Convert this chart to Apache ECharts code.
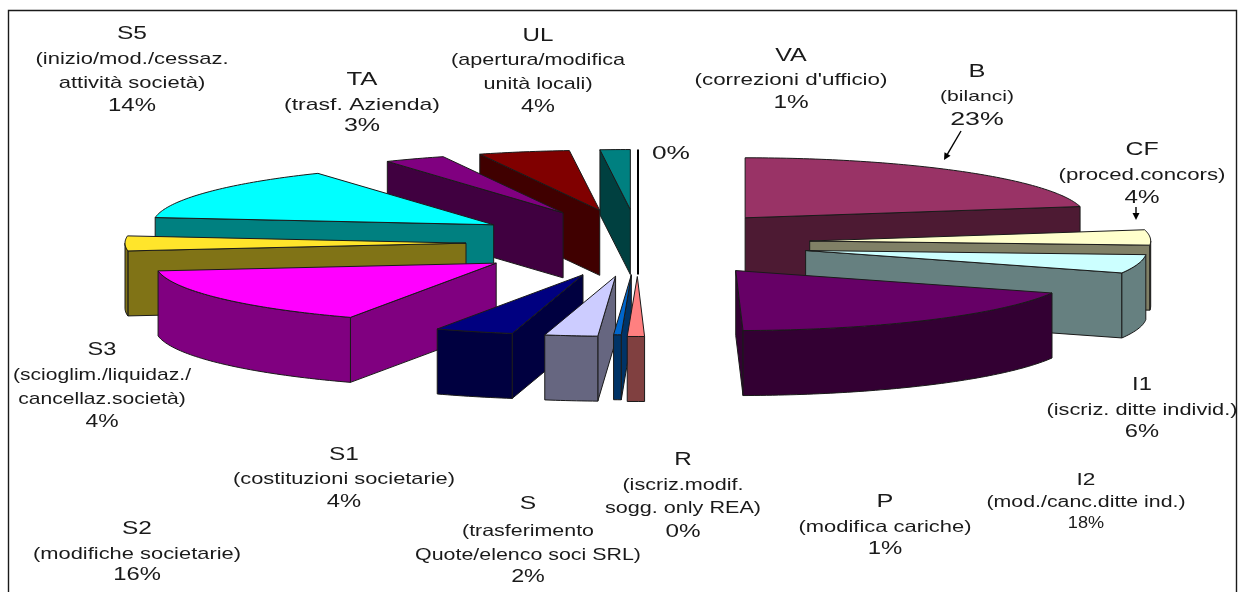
<!DOCTYPE html>
<html><head><meta charset="utf-8">
<style>html,body{margin:0;padding:0;background:#fff}#c{width:1244px;height:592px}</style>
<script src="https://cdn.jsdelivr.net/npm/echarts@6/dist/echarts.min.js"></script>
</head><body><div id="c"></div>
<script>
// Slices, clockwise from 12 o'clock
var codes  = ['B','CF','I1','I2','P','R','S','S1','S2','S3','S5','TA','UL','VA','-'];
var shares = [22,4.1,5,18.56,0.81,0.36,2.5,3.7,15.9,4,14.45,2.9,4.3,1.42,0];
var colors = ['#993366','#FFFFCC','#CCFFFF','#660066','#FF8080','#0066CC','#CCCCFF','#000080','#FF00FF','#FFE52B','#00FFFF','#800080','#800000','#008080','#000000'];
var explodeScale = [0.977,1,1,1,1,0.95,1,1,1.02,1,1,1,1,1,1];

// Label texts
var texts = {
  S5:['S5','(inizio/mod./cessaz.','attività società)','14%'],
  TA:['TA','(trasf. Azienda)','3%'],
  UL:['UL','(apertura/modifica','unità locali)','4%'],
  VA:['VA',"(correzioni d'ufficio)",'1%'],
  B:['B','(bilanci)','23%'],
  CF:['CF','(proced.concors)','4%'],
  Z:['0%'],
  I1:['I1','(iscriz. ditte individ.)','6%'],
  I2:['I2','(mod./canc.ditte ind.)','18%'],
  P:['P','(modifica cariche)','1%'],
  R:['R','(iscriz.modif.','sogg. only REA)','0%'],
  S:['S','(trasferimento','Quote/elenco soci SRL)','2%'],
  S1:['S1','(costituzioni societarie)','4%'],
  S2:['S2','(modifiche societarie)','16%'],
  S3:['S3','(scioglim./liquidaz./','cancellaz.società)','4%']
};

// Layout (separate from data)
var G = {cx:638, cy:243, rx:341, ry:60, ex:172, ey:33.5, depth:65};
var labelLayout = {
  S5:{x:132,ys:[34,59,83,106],w:193,ref:1,sizes:[19,17,17,18.5]},
  TA:{x:362,ys:[80,105,126],w:156,ref:1,sizes:[19,17,18.5]},
  UL:{x:538,ys:[36,60,84,107],w:174,ref:1,sizes:[19,17,17,18.5]},
  VA:{x:791,ys:[56,80,103],w:193,ref:1,sizes:[19,17,18.5]},
  B:{x:977,ys:[72,97,120],w:74,ref:1,sizes:[18,15,19]},
  CF:{x:1142,ys:[150,175,198],w:167,ref:1,sizes:[19,17,18.5]},
  Z:{x:671,ys:[154],w:38,ref:0,sizes:[18.5]},
  I1:{x:1142,ys:[385,410,432],w:191,ref:1,sizes:[18,16.5,18]},
  I2:{x:1086,ys:[480,503,524],w:199,ref:1,sizes:[17,16,16],scale:[1,1,0.85]},
  P:{x:885,ys:[502,527,549],w:173,ref:1,sizes:[19,16.5,18]},
  R:{x:683,ys:[460,486,509,532],w:156,ref:2,sizes:[18,16,16,18]},
  S:{x:528,ys:[504,531,555,577],w:226,ref:2,sizes:[19,16.5,16.5,18]},
  S1:{x:344,ys:[455,479,502],w:222,ref:1,sizes:[19,17,18.5]},
  S2:{x:137,ys:[529,554,575],w:208,ref:1,sizes:[19,17,18.5]},
  S3:{x:102,ys:[350,375,399,422],w:178,ref:1,sizes:[19,17,17,18.5]}
};
var arrows = [[961,131,944,160],[1136,207,1136,220]];

var FONT='"Liberation Sans",Arial,sans-serif';
var INK='#1a1a1a';
var total=shares.reduce(function(a,b){return a+b},0);
var rows=[],acc=0;
shares.forEach(function(v,i){
  var a0=acc/total*360; acc+=v; var a1=acc/total*360;
  rows.push({i:i,a0:a0,a1:a1,mid:(a0+a1)/2});
});
// zero slice sits exactly on 12 o'clock
rows[rows.length-1].a0=rows[rows.length-1].a1=rows[rows.length-1].mid=360;
// painter's order: far slices first
var ordered=rows.slice().sort(function(p,q){return Math.cos(q.mid*Math.PI/180)-Math.cos(p.mid*Math.PI/180)});
var seriesData=ordered.map(function(r){return {name:codes[r.i],value:[r.a0,r.a1,shares[r.i],r.i]}});

function shade(hex){
  var n=parseInt(hex.slice(1),16);
  return 'rgb('+[(n>>16)&255,(n>>8)&255,n&255].map(function(c){return Math.round(c/2)}).join(',')+')';
}
function renderSlice(params,api){
  var a0=api.value(0),a1=api.value(1),idx=api.value(3);
  var col=colors[idx],side=shade(col),k=explodeScale[idx];
  var mid=(a0+a1)/2*Math.PI/180;
  var ax=G.cx+G.ex*k*Math.sin(mid), ay=G.cy-G.ey*k*Math.cos(mid);
  function pt(deg,dz){var t=deg*Math.PI/180;return [ax+G.rx*Math.sin(t),ay-G.ry*Math.cos(t)+(dz||0)];}
  function arc(s,e,dz){var o=[],n=Math.max(1,Math.ceil(Math.abs(e-s)));for(var j=0;j<=n;j++)o.push(pt(s+(e-s)*j/n,dz));return o;}
  var kids=[];
  function poly(points,fill){kids.push({type:'polygon',shape:{points:points},style:{fill:fill,stroke:INK,lineWidth:1,lineJoin:'round'}});}
  var d=G.depth;
  if(shares[idx]===0){
    var top=pt(a0,0);
    kids.push({type:'polyline',shape:{points:[top,[ax,ay],[ax,ay+d]]},style:{stroke:'#000',lineWidth:2,fill:null}});
    return {type:'group',children:kids};
  }
  if(Math.sin(a0*Math.PI/180)<0){var p=pt(a0);poly([[ax,ay],p,[p[0],p[1]+d],[ax,ay+d]],side);}
  if(Math.sin(a1*Math.PI/180)>0){var q=pt(a1);poly([[ax,ay],q,[q[0],q[1]+d],[ax,ay+d]],side);}
  var s=Math.max(a0,90),e=Math.min(a1,270);
  if(e>s){poly(arc(s,e).concat(arc(e,s,d)),side);}
  poly([[ax,ay]].concat(arc(a0,a1)),col);
  return {type:'group',children:kids};
}

// Text width helper: the block is stretched horizontally to the reference's wide lettering
var mctx=document.createElement('canvas').getContext('2d');
function textW(t,size){mctx.font=size+'px "Liberation Sans"';return mctx.measureText(t).width;}
var graphics=[{type:'rect',silent:true,z:0,shape:{x:8.5,y:10.5,width:1228,height:600},style:{fill:'#fff',stroke:INK,lineWidth:1.4}}];
Object.keys(texts).forEach(function(key){
  var L=labelLayout[key],lines=texts[key];
  var sx=L.w/textW(lines[L.ref],L.sizes[L.ref]);
  lines.forEach(function(t,n){
    graphics.push({type:'text',z:10,x:L.x,y:L.ys[n],scaleX:sx*(L.scale?L.scale[n]:1),
      style:{text:t,font:L.sizes[n]+'px '+FONT,fill:INK,textAlign:'center',textVerticalAlign:'middle'}});
  });
});
arrows.forEach(function(a){
  var dx=a[2]-a[0],dy=a[3]-a[1],len=Math.sqrt(dx*dx+dy*dy),ux=dx/len,uy=dy/len,h=7,w=3.5;
  graphics.push({type:'line',z:10,shape:{x1:a[0],y1:a[1],x2:a[2]-ux*h*0.6,y2:a[3]-uy*h*0.6},style:{stroke:'#000',lineWidth:1.4}});
  graphics.push({type:'polygon',z:10,shape:{points:[[a[2],a[3]],[a[2]-ux*h-uy*w,a[3]-uy*h+ux*w],[a[2]-ux*h+uy*w,a[3]-uy*h-ux*w]]},style:{fill:'#000'}});
});

var chart=echarts.init(document.getElementById('c'),null,{renderer:'canvas'});
chart.setOption({
  animation:false,backgroundColor:'#fff',
  graphic:graphics,
  series:[{type:'custom',coordinateSystem:'none',silent:true,z:5,renderItem:renderSlice,data:seriesData}]
});
</script></body></html>
